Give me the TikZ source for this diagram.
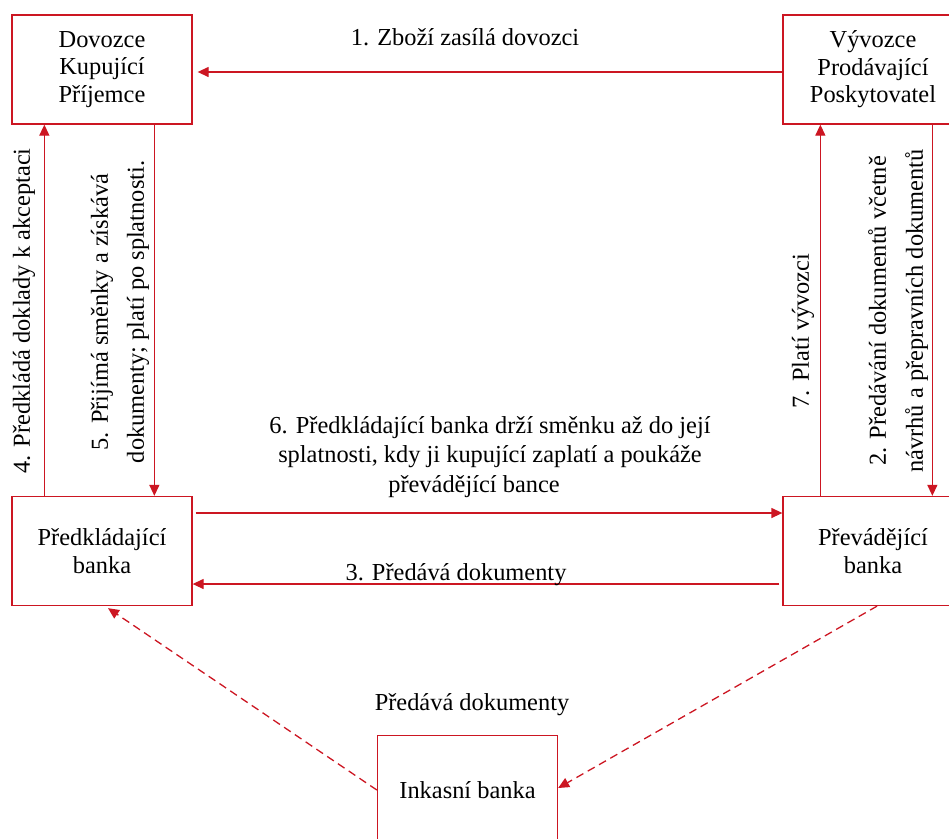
\documentclass[tikz,border=0pt]{standalone}
\usepackage{fontspec}
\setmainfont{Liberation Serif}
\usetikzlibrary{arrows.meta}
\definecolor{linered}{RGB}{204,22,34}
\begin{document}
\begin{tikzpicture}[x=1pt,y=-1pt,
  every node/.style={font=\fontsize{24.4}{27.5}\selectfont, text=black},
  party/.style={draw=linered, line width=1.3pt, minimum width=180pt,
    minimum height=109pt, align=center, inner sep=0pt},
  flow/.style={draw=linered, line width=1.3pt,
    -{Triangle[length=11pt,width=10pt]}},
  dflow/.style={flow, dash pattern=on 8pt off 5pt},
  vlabel/.style={rotate=90, align=center, inner sep=0pt},
]
\useasboundingbox (0,0) rectangle (949,838);

% parties and banks
\node[party] (dov)  at (102,69.5) {Dovozce\\Kupující\\Příjemce};
\node[party] (vyv)  at (873,69.5) {Vývozce\\Prodávající\\Poskytovatel};
\node[party] (pred) at (102,551) {Předkládající\\banka};
\node[party] (prev) at (873,551) {Převádějící\\banka};
\node[party] (ink)  at (467.5,790) {Inkasní banka};

% goods
\draw[flow] ([yshift=-2.5pt]vyv.west) -- ([xshift=5pt,yshift=-2.5pt]dov.east);
\node (l1) [anchor=base] at (465,45) {1. Zboží zasílá dovozci};

% importer side
\draw[flow] ([xshift=33pt]pred.north west) -- ([xshift=33pt]dov.south west);
\draw[flow] ([xshift=143pt]dov.south west) -- ([xshift=143pt]pred.north west);
\node (l4) [vlabel] at (24,311) {4. Předkládá doklady k akceptaci};
\node (l5) [vlabel, font=\fontsize{24.4}{36}\selectfont] at (120,312)
  {5. Přijímá směnky a získává\\dokumenty; platí po splatnosti.};

% exporter side
\draw[flow] ([xshift=38pt]prev.north west) -- ([xshift=38pt]vyv.south west);
\draw[flow] ([xshift=150pt]vyv.south west) -- ([xshift=150pt]prev.north west);
\node (l7) [vlabel] at (803,331) {7. Platí vývozci};
\node (l2) [vlabel, font=\fontsize{24.4}{37}\selectfont] at (898,311)
  {2. Předávání dokumentů včetně\\návrhů a přepravních dokumentů};

% between the banks
\draw[flow] ([xshift=3pt,yshift=38pt]pred.east) -- ([yshift=38pt]prev.west);
\draw[flow] ([xshift=-3pt,yshift=-33pt]prev.west) -- ([yshift=-33pt]pred.east);
\node (l6) [align=center, font=\fontsize{24.4}{29.5}\selectfont, anchor=base]
  at (490,492)
  {6. Předkládající banka drží směnku až do její\\
   splatnosti, kdy ji kupující zaplatí a poukáže\\
   převádějící bance\hspace*{32pt}};
\node (l3) [anchor=base] at (456,580) {3. Předává dokumenty};

% collecting bank
\draw[dflow] (ink.west) -- ([xshift=6pt,yshift=-2pt]pred.south);
\draw[dflow] ([xshift=4pt]prev.south) -- ([yshift=2pt]ink.east);
\node (lb) [anchor=base] at (472,710) {Předává dokumenty};
\end{tikzpicture}
\end{document}
